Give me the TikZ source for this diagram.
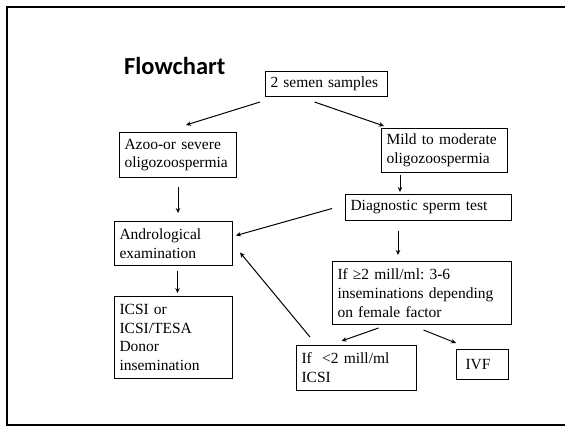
\documentclass[tikz,border=0pt]{standalone}
\usepackage{fontspec}
\setmainfont{Liberation Serif}
\newfontfamily\titlefont{Carlito}
\usetikzlibrary{calc,arrows.meta}
\frenchspacing

\begin{document}
\begin{tikzpicture}[
    x=1pt,y=-1pt,
    step box/.style={draw,line width=1pt,anchor=north west,align=left,inner xsep=5pt,inner ysep=0pt,
      font=\fontsize{15.5}{18.8}\selectfont},
    flow/.style={-{Stealth[length=5pt,width=4.5pt]},line width=1pt},
    slide frame/.style={line width=2pt},
  ]
  \useasboundingbox (0,0) rectangle (565,426);

  % slide frame, open on the right
  \draw[slide frame] (566,6.5) -- (7,6.5) -- (7,425) -- (566,425);

  \node[anchor=base west,inner sep=0pt,font=\titlefont\bfseries\fontsize{24.5}{28}\selectfont] (title) at (124,74) {Flowchart};

  \node[step box,text width=112pt,minimum height=25pt] (semen) at (265,71) {2 semen samples};
  \node[step box,text width=107pt,minimum height=45pt] (azoo) at (119,132) {Azoo-or severe\\oligozoospermia};
  \node[step box,text width=116pt,minimum height=44pt] (mild) at (381,128) {Mild to moderate\\oligozoospermia};
  \node[step box,text width=156pt,minimum height=26pt] (diag) at (345,194) {Diagnostic sperm test};
  \node[step box,text width=108pt,minimum height=44pt] (andro) at (114,221) {Andrological\\examination};
  \node[step box,text width=108pt,minimum height=82pt] (icsi) at (114,296) {ICSI or\\ICSI/TESA\\Donor\\insemination};
  \node[step box,text width=169pt,minimum height=63pt] (high) at (332,261) {If ≥2 mill/ml: 3-6\\inseminations depending\\on female factor};
  \node[step box,text width=110pt,minimum height=45pt] (low) at (296,345) {If\ \ <2 mill/ml\\ICSI};
  \node[step box,inner xsep=9pt,text width=34pt,minimum height=30pt] (ivf) at (456,349) {IVF};

  \draw[flow] ($ (semen.south west) + (-5,5) $) -- ($ (azoo.north) + (8,-7) $);
  \draw[flow] ($ (semen.south) + (-12,5) $) -- ($ (mild.north west) + (3,-2) $);
  \draw[flow] ($ (azoo.south) + (0,9) $) -- ($ (azoo.south |- andro.north) + (0,-8) $);
  \draw[flow] ($ (mild.south west) + (19,2) $) -- ($ (mild.south west |- diag.north) + (19,-2) $);
  \draw[flow] ($ (diag.west) + (-13,1) $) -- ($ (andro.east) + (3,-8) $);
  \draw[flow] ($ (diag.south west) + (53,10) $) -- ($ (diag.south west |- high.north) + (53,-6) $);
  \draw[flow] ($ (andro.south) + (4,5) $) -- ($ (andro.south |- icsi.north) + (4,-3) $);
  \draw[flow] ($ (low.north west) + (14,-8) $) -- ($ (andro.east) + (7,9) $);
  \draw[flow] ($ (high.south) + (-43.5,3) $) -- ($ (low.north) + (-15,-4) $);
  \draw[flow] ($ (high.south) + (1.5,5) $) -- ($ (ivf.north west) + (0,-6) $);

\end{tikzpicture}
\end{document}
